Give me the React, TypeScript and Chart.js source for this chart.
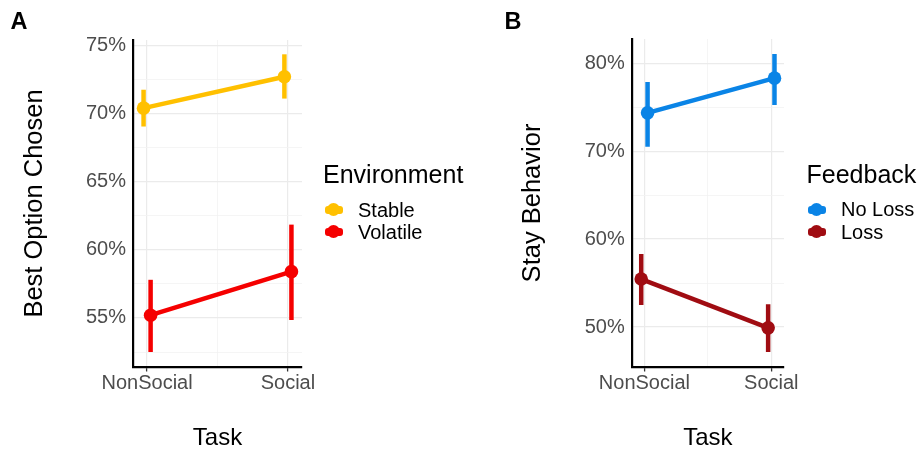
import React, { useEffect, useRef } from 'react';
import { Chart, registerables } from 'chart.js';

Chart.register(...registerables);

// ---------- data ----------
const tasks = ['NonSocial', 'Social'];

// Panel A: Best Option Chosen (%)
const stableMean = [70.4, 72.7];
const stableLow = [69.05, 71.1];
const stableHigh = [71.75, 74.35];
const volatileMean = [55.2, 58.4];
const volatileLow = [52.5, 54.85];
const volatileHigh = [57.8, 61.85];
const panelATicks = [52.5, 55, 57.5, 60, 62.5, 65, 67.5, 70, 72.5, 75];

// Panel B: Stay Behavior (%)
const noLossMean = [74.35, 78.3];
const noLossLow = [70.5, 75.25];
const noLossHigh = [77.85, 81.05];
const lossMean = [55.45, 49.9];
const lossLow = [52.5, 47.15];
const lossHigh = [58.3, 52.6];
const panelBTicks = [50, 55, 60, 65, 70, 75, 80];

// ---------- styling ----------
const FONT = '"Liberation Sans", Arial, sans-serif';
const DODGE = 0.025;
const C_STABLE = '#FFC000';
const C_VOLATILE = '#F50000';
const C_NOLOSS = '#0A84E6';
const C_LOSS = '#A00C12';

type Series = {
  label: string;
  color: string;
  mean: number[];
  low: number[];
  high: number[];
  dodge: number;
};

type PanelCfg = {
  series: Series[];
  yMin: number;
  yMax: number;
  yTicks: number[];
  yMajor: number;
  yTitle: string;
  yWidth: number;
  yTitlePad: number;
  padTop: number;
  padRight: number;
};

function buildConfig(p: PanelCfg): any {
  const datasets: any[] = [];
  p.series.forEach((s) => {
    datasets.push({
      type: 'line',
      label: s.label,
      data: tasks.map((_, i) => ({ x: i + s.dodge, y: s.mean[i] })),
      borderColor: s.color,
      backgroundColor: s.color,
      borderWidth: 4.5,
      pointRadius: 6.8,
      pointBorderWidth: 0,
      pointBackgroundColor: s.color,
      tension: 0,
      order: 0,
    });
    tasks.forEach((_, i) => {
      datasets.push({
        type: 'line',
        label: s.label + ' CI ' + tasks[i],
        data: [
          { x: i + s.dodge, y: s.low[i] },
          { x: i + s.dodge, y: s.high[i] },
        ],
        borderColor: s.color,
        borderWidth: 4.5,
        borderCapStyle: 'butt',
        pointRadius: 0,
        order: 1,
      });
    });
  });

  const isMajorY = (v: number) => Math.abs(v / p.yMajor - Math.round(v / p.yMajor)) < 1e-6;
  const isMajorX = (v: number) => Math.abs(v - Math.round(v)) < 1e-6;

  return {
    type: 'line',
    data: { datasets },
    options: {
      responsive: false,
      animation: false,
      devicePixelRatio: 1,
      layout: { padding: { left: 0, top: p.padTop, right: p.padRight, bottom: 0 } },
      plugins: { legend: { display: false }, tooltip: { enabled: false } },
      scales: {
        x: {
          type: 'linear',
          min: -0.1,
          max: 1.1,
          afterBuildTicks: (s: any) => {
            s.ticks = [0, 0.5, 1].map((v) => ({ value: v }));
          },
          afterFit: (s: any) => {
            s.height = 86;
          },
          ticks: {
            autoSkip: false,
            maxRotation: 0,
            padding: 0,
            color: '#4D4D4D',
            font: { family: FONT, size: 20 },
            callback: (v: number) => (isMajorX(v) ? tasks[Math.round(v)] : ''),
          },
          grid: {
            color: (ctx: any) => (isMajorX(ctx.tick.value) ? '#EBEBEB' : '#F3F3F3'),
            lineWidth: (ctx: any) => (isMajorX(ctx.tick.value) ? 1.2 : 0.8),
            tickLength: 4.5,
            tickColor: (ctx: any) => (isMajorX(ctx.tick.value) ? '#333333' : 'rgba(0,0,0,0)'),
            tickWidth: 1.3,
          },
          border: { display: true, color: '#000000', width: 2.2 },
          title: {
            display: true,
            text: 'Task',
            color: '#000000',
            font: { family: FONT, size: 24 },
            padding: { top: 0, bottom: 0.6 },
          },
        },
        y: {
          type: 'linear',
          min: p.yMin,
          max: p.yMax,
          afterBuildTicks: (s: any) => {
            s.ticks = p.yTicks.map((v) => ({ value: v }));
          },
          afterFit: (s: any) => {
            s.width = p.yWidth;
          },
          ticks: {
            autoSkip: false,
            padding: 7,
            color: '#4D4D4D',
            font: { family: FONT, size: 20 },
            callback: (v: number) => (isMajorY(v) ? `${Math.round(v)}%` : ''),
          },
          grid: {
            drawTicks: false,
            color: (ctx: any) => (isMajorY(ctx.tick.value) ? '#EBEBEB' : '#F3F3F3'),
            lineWidth: (ctx: any) => (isMajorY(ctx.tick.value) ? 1.2 : 0.8),
          },
          border: { display: true, color: '#000000', width: 2.2 },
          title: {
            display: true,
            text: p.yTitle,
            color: '#000000',
            font: { family: FONT, size: 25.5 },
            padding: { top: p.yTitlePad, bottom: 0 },
          },
        },
      },
    },
  };
}

function Panel(props: { cfg: PanelCfg; left: number; width: number }) {
  const ref = useRef<HTMLCanvasElement | null>(null);
  useEffect(() => {
    if (!ref.current) return;
    const chart = new Chart(ref.current, buildConfig(props.cfg));
    return () => chart.destroy();
  }, []);
  return (
    <canvas
      ref={ref}
      width={props.width}
      height={453}
      style={{ position: 'absolute', left: props.left, top: 0, width: props.width, height: 453 }}
    />
  );
}

function Text(props: { x: number; baseline: number; size: number; text: string; bold?: boolean }) {
  const top = props.baseline - 0.8465 * props.size;
  return (
    <div
      style={{
        position: 'absolute',
        left: props.x,
        top,
        fontSize: props.size,
        lineHeight: 1,
        fontFamily: FONT,
        fontWeight: props.bold ? 700 : 400,
        color: '#000',
        whiteSpace: 'nowrap',
      }}
    >
      {props.text}
    </div>
  );
}

function Key(props: { cx: number; cy: number; color: string }) {
  return (
    <>
      <div
        style={{
          position: 'absolute',
          left: props.cx - 9,
          top: props.cy - 4,
          width: 18,
          height: 8,
          borderRadius: 3,
          background: props.color,
        }}
      />
      <div
        style={{
          position: 'absolute',
          left: props.cx - 6.5,
          top: props.cy - 6.5,
          width: 13,
          height: 13,
          borderRadius: '50%',
          background: props.color,
        }}
      />
    </>
  );
}

const panelA: PanelCfg = {
  series: [
    { label: 'Stable', color: C_STABLE, mean: stableMean, low: stableLow, high: stableHigh, dodge: -DODGE },
    { label: 'Volatile', color: C_VOLATILE, mean: volatileMean, low: volatileLow, high: volatileHigh, dodge: DODGE },
  ],
  yMin: 51.4,
  yMax: 75.4,
  yTicks: panelATicks,
  yMajor: 5,
  yTitle: 'Best Option Chosen',
  yWidth: 133,
  yTitlePad: 19.7,
  padTop: 40,
  padRight: 158,
};

const panelB: PanelCfg = {
  series: [
    { label: 'No Loss', color: C_NOLOSS, mean: noLossMean, low: noLossLow, high: noLossHigh, dodge: DODGE },
    { label: 'Loss', color: C_LOSS, mean: lossMean, low: lossLow, high: lossHigh, dodge: -DODGE },
  ],
  yMin: 45.45,
  yMax: 82.75,
  yTicks: panelBTicks,
  yMajor: 10,
  yTitle: 'Stay Behavior',
  yWidth: 171.7,
  yTitlePad: 57.7,
  padTop: 39,
  padRight: 137,
};

export default function App() {
  return (
    <div style={{ position: 'absolute', left: 0, top: 0, width: 921, height: 453, background: '#fff', overflow: 'hidden' }}>
      <Panel cfg={panelA} left={0} width={460} />
      <Panel cfg={panelB} left={460} width={461} />

      <Text x={10.5} baseline={30} size={23.5} text="A" bold />
      <Text x={504.5} baseline={30} size={23.5} text="B" bold />

      <Text x={323} baseline={183.3} size={25} text="Environment" />
      <Key cx={333.5} cy={209.8} color={C_STABLE} />
      <Key cx={333.5} cy={231.8} color={C_VOLATILE} />
      <Text x={358} baseline={216.7} size={20} text="Stable" />
      <Text x={358} baseline={239.3} size={20} text="Volatile" />

      <Text x={806.5} baseline={182.7} size={25} text="Feedback" />
      <Key cx={816.7} cy={209.5} color={C_NOLOSS} />
      <Key cx={816.7} cy={231.7} color={C_LOSS} />
      <Text x={841} baseline={215.5} size={20} text="No Loss" />
      <Text x={841} baseline={239.3} size={20} text="Loss" />
    </div>
  );
}
